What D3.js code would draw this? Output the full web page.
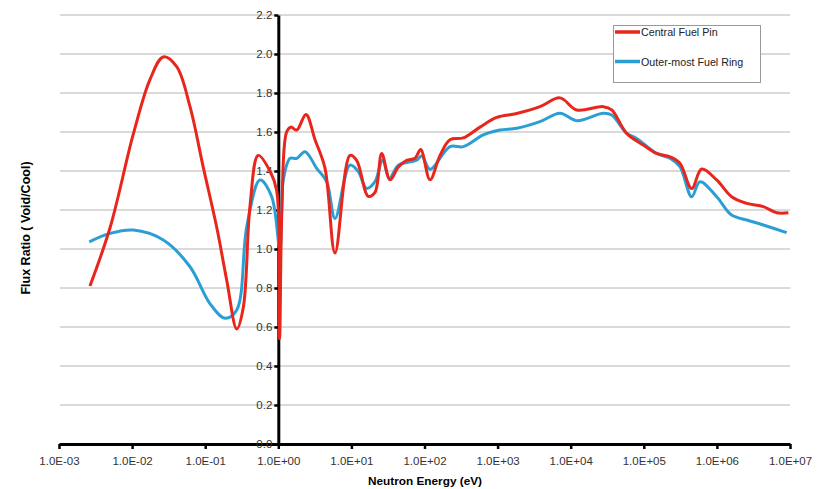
<!DOCTYPE html>
<html lang="en">
<head>
  <meta charset="UTF-8">
  <title>Flux Ratio vs Neutron Energy</title>
  <style>
    body {
      margin: 0;
      background: #fff;
      font-family: "Liberation Sans", Arial, sans-serif;
    }
    .tick text {
      font-size: 11.5px;
      fill: #333;
    }
  </style>
  <script src="https://d3js.org/d3.v7.min.js"></script>
</head>
<body>
  <svg id="chart"></svg>
  <script>
    // Central Fuel Pin
    const redEnergy = [2.65e-3, 5.0e-3, 1.04e-2, 1.76e-2, 2.67e-2, 4.07e-2, 6.2e-2, 9.4e-2, 0.144, 0.197,
      0.27, 0.332, 0.41, 0.532, 0.769, 0.95, 1.04, 1.12, 1.30, 1.49,
      1.79, 2.39, 3.18, 4.35, 5.97, 9.57, 11.8, 17.0, 21.0, 26.0,
      33.7, 43.9, 57, 74, 88.7, 119, 163, 223, 340, 574,
      972, 1825, 3800, 7140, 12080, 27900, 36400, 58300, 98400, 1.5e5,
      2.28e5, 3.12e5, 4.52e5, 6.19e5, 9.93e5, 1.59e6, 2.56e6, 4.32e6, 6.58e6, 9.5e6];
    const redRatio = [0.81, 1.11, 1.59, 1.87, 1.985, 1.935, 1.73, 1.42, 1.11, 0.84,
      0.59, 0.70, 1.22, 1.48, 1.40, 1.30, 0.54, 1.20, 1.60, 1.625,
      1.61, 1.69, 1.56, 1.415, 0.98, 1.48, 1.455, 1.27, 1.29, 1.49,
      1.355, 1.42, 1.455, 1.465, 1.51, 1.355, 1.48, 1.56, 1.57, 1.625,
      1.675, 1.695, 1.73, 1.775, 1.713, 1.73, 1.713, 1.593, 1.533, 1.49,
      1.473, 1.44, 1.31, 1.41, 1.354, 1.268, 1.234, 1.217, 1.186, 1.186];

    // Outer-most Fuel Ring
    const blueEnergy = [2.6e-3, 5.0e-3, 1.04e-2, 2.67e-2, 6.2e-2, 0.116, 0.187, 0.27, 0.37, 0.562,
      0.813, 1.05, 1.17, 1.45, 1.79, 2.32, 3.35, 4.59, 5.97, 9.57,
      12.4, 16.2, 21.0, 26.8, 33.0, 43.9, 78, 91.6, 119, 223,
      340, 637, 1080, 1825, 3800, 7140, 12080, 27900, 36400, 58300,
      8.0e4, 1.5e5, 2.28e5, 3.12e5, 4.52e5, 5.87e5, 9.93e5, 1.59e6, 2.56e6, 4.32e6, 9.0e6];
    const blueRatio = [1.037, 1.08, 1.097, 1.046, 0.909, 0.72, 0.645, 0.687, 1.114, 1.354,
      1.268, 1.003, 1.354, 1.465, 1.465, 1.499, 1.414, 1.345, 1.157, 1.43,
      1.397, 1.311, 1.345, 1.456, 1.362, 1.43, 1.456, 1.477, 1.409, 1.525,
      1.525, 1.585, 1.61, 1.619, 1.653, 1.696, 1.658, 1.696, 1.687, 1.593,
      1.567, 1.49, 1.465, 1.422, 1.268, 1.345, 1.268, 1.174, 1.149, 1.123, 1.084];

    const xTicks = [1e-3, 1e-2, 1e-1, 1e0, 1e1, 1e2, 1e3, 1e4, 1e5, 1e6, 1e7];
    const xTickLabels = ["1.0E-03", "1.0E-02", "1.0E-01", "1.0E+00", "1.0E+01", "1.0E+02",
      "1.0E+03", "1.0E+04", "1.0E+05", "1.0E+06", "1.0E+07"];
    const yTicks = [0, 0.2, 0.4, 0.6, 0.8, 1.0, 1.2, 1.4, 1.6, 1.8, 2.0, 2.2];

    const series = [
      { name: "Central Fuel Pin", color: "#e8261c", energy: redEnergy, ratio: redRatio },
      { name: "Outer-most Fuel Ring", color: "#2b9fd4", energy: blueEnergy, ratio: blueRatio }
    ];

    const W = 830, H = 489;
    const svg = d3.select("#chart").attr("width", W).attr("height", H);

    const x = d3.scaleLog().domain([1e-3, 1e7]).range([59, 790]);
    const y = d3.scaleLinear().domain([0, 2.2]).range([444, 15]);

    // gridlines
    svg.append("g")
      .selectAll("line")
      .data(yTicks.filter(d => d > 0))
      .join("line")
      .attr("x1", 60).attr("x2", 790)
      .attr("y1", d => y(d)).attr("y2", d => y(d))
      .attr("stroke", "#b4b4b4")
      .attr("stroke-width", 1);

    // x axis
    const xAxis = svg.append("g")
      .attr("transform", `translate(0,${y(0)})`)
      .call(d3.axisBottom(x).tickValues(xTicks)
        .tickFormat((d, i) => xTickLabels[i]).tickSize(5).tickSizeOuter(0).tickPadding(8));
    xAxis.select(".domain").attr("stroke", "#000").attr("stroke-width", 3);
    xAxis.selectAll(".tick line").attr("stroke", "#000").attr("stroke-width", 2.5);

    // y axis crosses at 1 eV
    const yAxis = svg.append("g")
      .attr("transform", `translate(${x(1)},0)`)
      .call(d3.axisLeft(y).tickValues(yTicks).tickFormat(d3.format(".1f"))
        .tickSize(4).tickSizeOuter(0).tickPadding(2));
    yAxis.select(".domain").attr("stroke", "#000").attr("stroke-width", 3);
    yAxis.selectAll(".tick line").attr("stroke", "#000").attr("stroke-width", 2.5);

    // lines
    const line = d3.line()
      .x(d => x(d[0]))
      .y(d => y(d[1]))
      .curve(d3.curveCatmullRom.alpha(0.5));

    series.slice().reverse().forEach(s => {
      svg.append("path")
        .datum(s.energy.map((e, i) => [e, s.ratio[i]]))
        .attr("fill", "none")
        .attr("stroke", s.color)
        .attr("stroke-width", 3)
        .attr("stroke-linejoin", "round")
        .attr("d", line);
    });

    // axis titles
    svg.append("text")
      .attr("x", 425).attr("y", 485)
      .attr("text-anchor", "middle")
      .attr("font-size", 11.8).attr("font-weight", "bold")
      .text("Neutron Energy (eV)");

    svg.append("text")
      .attr("transform", "translate(30,228) rotate(-90)")
      .attr("text-anchor", "middle")
      .attr("font-size", 12.5).attr("font-weight", "bold")
      .text("Flux Ratio ( Void/Cool)");

    // legend
    const legend = svg.append("g");
    legend.append("rect")
      .attr("x", 613.5).attr("y", 25.5)
      .attr("width", 147).attr("height", 57)
      .attr("fill", "#fff")
      .attr("stroke", "#999")
      .attr("stroke-width", 1);

    legend.selectAll("g")
      .data(series)
      .join("g")
      .attr("transform", (d, i) => `translate(615,${32 + i * 29.5})`)
      .each(function (d) {
        const g = d3.select(this);
        g.append("line").attr("x1", 0).attr("x2", 25)
          .attr("stroke", d.color).attr("stroke-width", 3.5);
        g.append("text").attr("x", 26).attr("y", 4)
          .attr("font-size", 10.7).attr("fill", "#222")
          .text(d.name);
      });
  </script>
</body>
</html>
